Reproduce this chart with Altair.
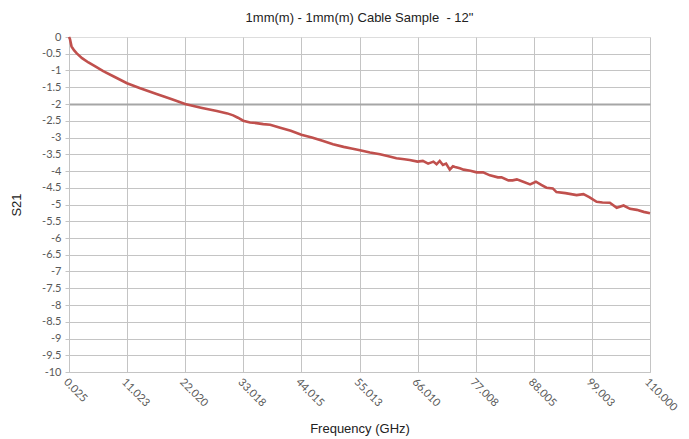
import altair as alt
import pandas as pd

freq = [0.025, 0.2, 0.5, 1.0, 1.5, 2.5, 3.7, 5.0, 6.5, 8.5, 11.0, 13.5, 16.6, 19.5, 22.0,
        25.0, 28.0, 30.0, 31.1, 32.0, 33.0, 34.3, 35.5, 36.8, 38.1, 40.0, 42.0, 44.0, 46.0,
        48.0, 50.0, 52.0, 53.5, 55.1, 57.0, 58.9, 60.5, 62.0, 63.5, 64.5, 66.0, 67.0, 68.0,
        69.0, 69.6, 70.2, 70.8, 71.4, 72.1, 72.7, 73.1, 74.0, 74.7, 76.0, 77.2, 78.4, 79.7,
        81.2, 81.9, 83.2, 84.0, 84.8, 86.0, 87.3, 88.4, 89.5, 90.4, 91.6, 92.3, 94.0, 96.1,
        97.4, 98.5, 99.9, 101.0, 102.4, 103.7, 105.0, 106.2, 107.5, 108.8, 110.0]
s21 = [0.0, -0.06, -0.28, -0.40, -0.49, -0.63, -0.76, -0.88, -1.02, -1.18, -1.38, -1.53,
       -1.70, -1.86, -2.00, -2.11, -2.21, -2.28, -2.34, -2.41, -2.50, -2.55, -2.57, -2.60,
       -2.62, -2.71, -2.80, -2.92, -3.00, -3.10, -3.20, -3.28, -3.33, -3.38, -3.45, -3.50,
       -3.56, -3.62, -3.65, -3.67, -3.72, -3.70, -3.78, -3.72, -3.80, -3.70, -3.82, -3.78,
       -3.96, -3.86, -3.88, -3.92, -3.96, -3.99, -4.04, -4.04, -4.13, -4.19, -4.19, -4.28,
       -4.28, -4.25, -4.32, -4.40, -4.32, -4.42, -4.50, -4.52, -4.63, -4.66, -4.72, -4.69,
       -4.78, -4.92, -4.94, -4.95, -5.10, -5.03, -5.13, -5.16, -5.22, -5.26]

x_ticks = [0.025, 11.023, 22.020, 33.018, 44.015, 55.013, 66.010, 77.008, 88.005, 99.003, 110.000]
y_ticks = [0, -0.5, -1, -1.5, -2, -2.5, -3, -3.5, -4, -4.5, -5, -5.5, -6, -6.5, -7, -7.5,
           -8, -8.5, -9, -9.5, -10]

df = pd.DataFrame({"f": freq, "s": s21})

line = alt.Chart(df).mark_line(color="#c0504d", strokeWidth=2.6).encode(
    x=alt.X("f:Q",
            scale=alt.Scale(domain=[0.025, 110], nice=False, zero=False),
            axis=alt.Axis(values=x_ticks, title="Frequency (GHz)",
                          labelExpr="format(datum.value, '.3f')",
                          labelAngle=45, labelAlign="left", labelBaseline="top",
                          labelFont="Lato", labelFontSize=11, labelColor="#595959",
                          labelPadding=4, labelOverlap=False,
                          titleFont="Liberation Sans", titleFontSize=13, titleFontWeight="normal",
                          titleColor="#222222", titlePadding=10,
                          grid=True, gridColor="#c4c4c4", gridWidth=1,
                          domain=True, domainColor="#c4c4c4", ticks=False)),
    y=alt.Y("s:Q",
            scale=alt.Scale(domain=[-10, 0], nice=False),
            axis=alt.Axis(values=y_ticks, title="S21",
                          labelExpr="'' + datum.value",
                          labelFont="Lato", labelFontSize=11, labelColor="#595959",
                          labelPadding=4,
                          titleFont="Liberation Sans", titleFontSize=13, titleFontWeight="normal",
                          titleColor="#222222", titlePadding=18,
                          grid=True,
                          gridColor={"condition": {"test": "datum.value == -2", "value": "#a6a6a6"}, "value": "#c4c4c4"},
                          gridWidth={"condition": {"test": "datum.value == -2", "value": 2}, "value": 1},
                          gridOpacity={"condition": {"test": "datum.value == 0", "value": 0}, "value": 1},
                          domain=True, domainColor="#c4c4c4", ticks=True, tickSize=4,
                          tickColor="#c4c4c4")),
)

chart = line.properties(
    width=581, height=335,
    title=alt.TitleParams("1mm(m) - 1mm(m) Cable Sample\u00a0 - 12\"", font="Liberation Sans",
                          fontSize=13, fontWeight="normal", color="#222222",
                          anchor="middle", offset=6),
    autosize=alt.AutoSizeParams(type="none"),
    padding={"left": 61, "top": 29, "right": 30, "bottom": 75},
).configure_view(stroke=None).configure(background="white")

chart.save("out.html", embed_options={"renderer": "svg", "actions": False})
